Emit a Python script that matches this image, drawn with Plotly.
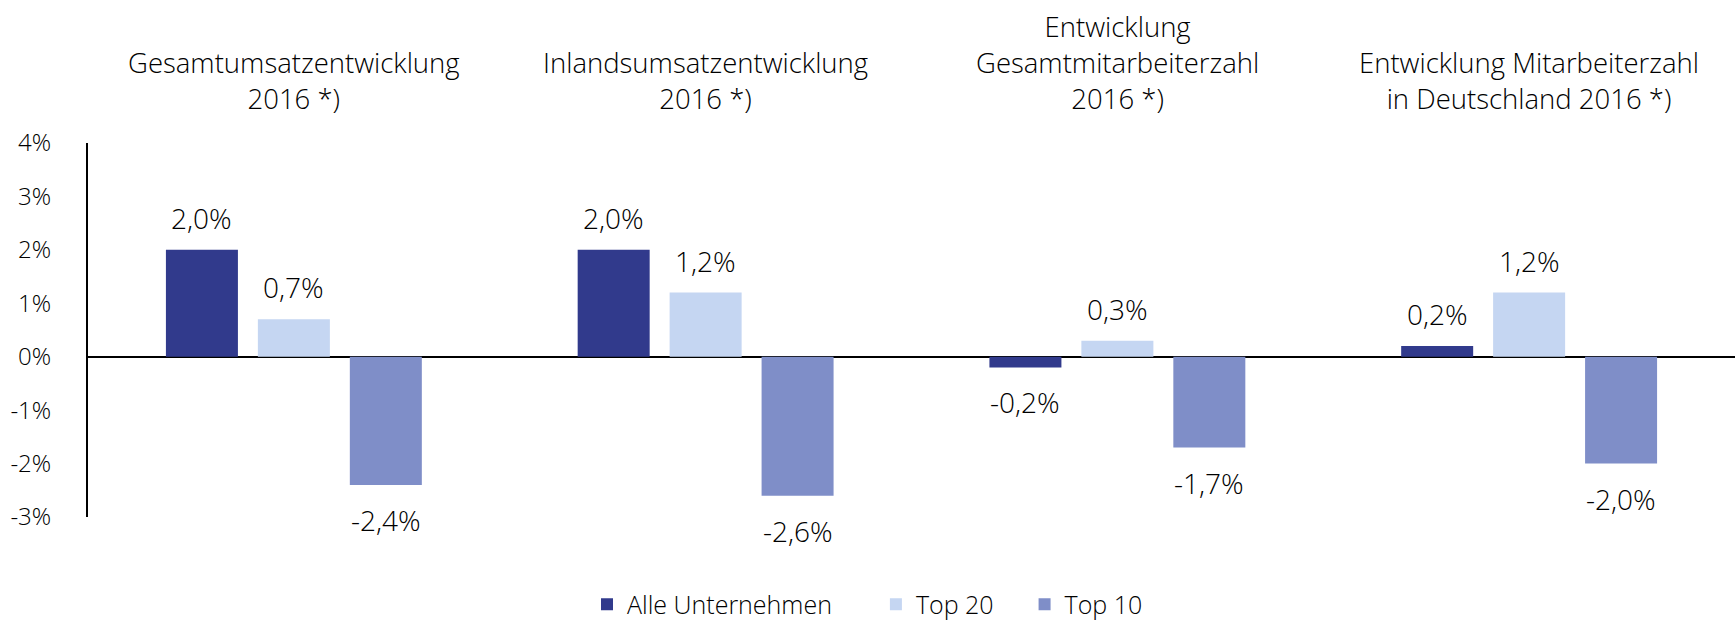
import plotly.graph_objects as go

categories = ["Gesamtumsatz", "Inlandsumsatz", "Gesamtmitarbeiter", "MitarbeiterDE"]
category_titles = [
    "Gesamtumsatzentwicklung<br>2016 *)",
    "Inlandsumsatzentwicklung<br>2016 *)",
    "Entwicklung<br>Gesamtmitarbeiterzahl<br>2016 *)",
    "Entwicklung Mitarbeiterzahl<br>in Deutschland 2016 *)",
]
series_names = ["Alle Unternehmen", "Top 20", "Top 10"]
alle = [2.0, 2.0, -0.2, 0.2]
top20 = [0.7, 1.2, 0.3, 1.2]
top10 = [-2.4, -2.6, -1.7, -2.0]
series_values = [alle, top20, top10]
colors = ["#313A8C", "#C5D6F2", "#7F8EC8"]
tick_vals = [-3, -2, -1, 0, 1, 2, 3, 4]
tick_text = ["-3%", "-2%", "-1%", "0%", "1%", "2%", "3%", "4%"]

W, H = 1735, 620
ML, MR, MT, MB = 88, 0, 143, 103
BARGAP = 0.33
BARGROUPGAP = 0.217
FONT = "Open Sans"
TXT = "#000000"

fig = go.Figure()
pad = ["\u00a0" * 6, "\u00a0" * 4, ""]
for name, vals, col, p in zip(series_names, series_values, colors, pad):
    fig.add_trace(go.Bar(
        x=categories, y=vals, name=name + p,
        marker=dict(color=col, line=dict(width=0)),
        hoverinfo="skip",
    ))

plot_w = W - ML - MR
slot = plot_w / len(categories) * (1 - BARGAP) / len(series_names)

annotations = []
for i, vals in enumerate(series_values):
    for c, v in zip(categories, vals):
        lab = f"{v:.1f}%".replace(".", ",")
        annotations.append(dict(
            x=c, y=v, xref="x", yref="y", text=lab, showarrow=False,
            xshift=(i - 1) * slot,
            yanchor="bottom" if v >= 0 else "top",
            yshift=11 if v >= 0 else -14,
            font=dict(family=FONT, size=28, color=TXT, weight=300),
        ))
for c, t in zip(categories, category_titles):
    annotations.append(dict(
        x=c, y=1, xref="x", yref="paper", text=t, showarrow=False,
        yanchor="bottom", yshift=24, align="center",
        font=dict(family=FONT, size=27.5, color=TXT, weight=300),
    ))

fig.update_layout(
    width=W, height=H,
    margin=dict(l=ML, r=MR, t=MT, b=MB),
    paper_bgcolor="white", plot_bgcolor="white",
    barmode="group", bargap=BARGAP, bargroupgap=BARGROUPGAP,
    font=dict(family=FONT, color=TXT),
    annotations=annotations,
    showlegend=True,
    legend=dict(
        orientation="h", xref="container", x=0.5, xanchor="center",
        yref="container", y=0.025, yanchor="middle",
        font=dict(family=FONT, size=25, color=TXT, weight=300),
        itemwidth=30, traceorder="normal",
    ),
    xaxis=dict(showticklabels=False, showgrid=False, zeroline=False,
               showline=False, ticks=""),
    yaxis=dict(range=[-3, 4], tickvals=tick_vals, ticktext=tick_text,
               showgrid=False, zeroline=True, zerolinecolor="black",
               zerolinewidth=2, showline=True, linecolor="black",
               linewidth=2, ticks="", ticklabelstandoff=30,
               tickfont=dict(family=FONT, size=24, color=TXT, weight=300)),
)

fig.write_html("out.html", config={"displayModeBar": False},
               post_script="document.body.style.margin='0';")
